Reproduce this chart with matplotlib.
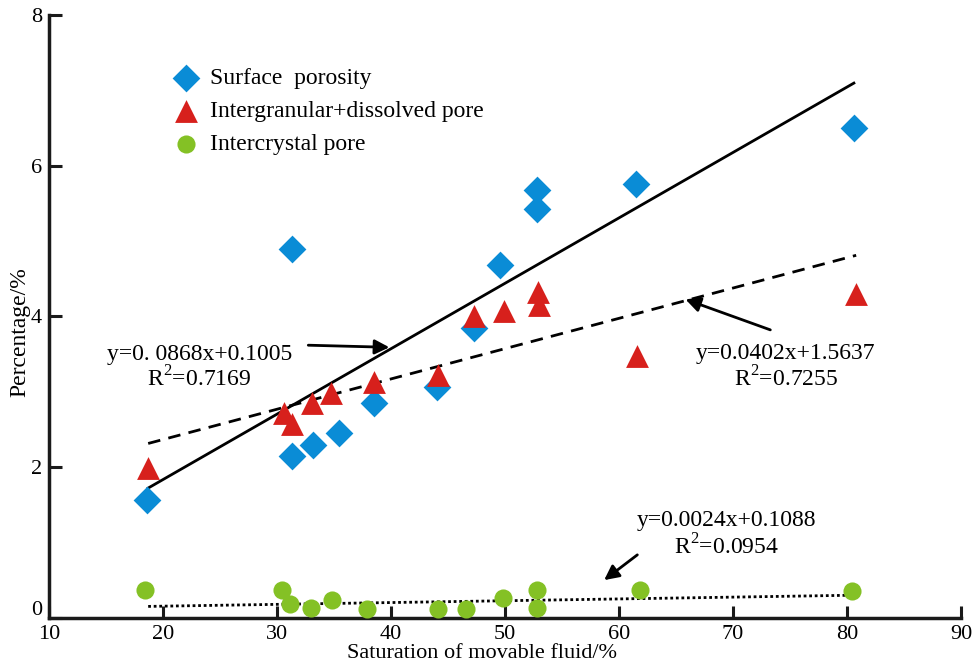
import matplotlib.pyplot as plt
import matplotlib.transforms as mtransforms
import numpy as np

# Saturation of movable fluid (%) vs percentage (%)
x_surface = [18.6, 31.3, 31.3, 33.2, 35.4, 38.5, 44.0, 47.3, 49.6, 52.8, 52.8, 61.5, 80.6]
y_surface = [1.56, 2.15, 4.89, 2.29, 2.46, 2.85, 3.06, 3.85, 4.68, 5.68, 5.43, 5.76, 6.50]

x_inter = [18.7, 30.6, 31.3, 33.1, 34.7, 38.5, 44.1, 47.3, 49.9, 52.9, 53.0, 61.6, 80.8]
y_inter = [1.99, 2.72, 2.57, 2.85, 2.98, 3.13, 3.22, 4.01, 4.07, 4.32, 4.15, 3.48, 4.30]

x_crystal = [18.4, 30.4, 31.1, 33.0, 34.8, 37.9, 44.1, 46.6, 49.8, 52.8, 52.8, 61.8, 80.4]
y_crystal = [0.37, 0.37, 0.19, 0.13, 0.24, 0.12, 0.12, 0.12, 0.26, 0.37, 0.13, 0.37, 0.36]

# regression coefficients (slope, intercept) and fitted x range
fit_surface = (0.0868, 0.1005)
fit_inter = (0.0402, 1.5637)
fit_crystal = (0.0024, 0.1088)
fit_range_surface = (18.7, 80.6)
fit_range_inter = (18.7, 80.8)
fit_range_crystal = (18.7, 80.6)

x_ticks = [10, 20, 30, 40, 50, 60, 70, 80, 90]
y_ticks = [0, 2, 4, 6, 8]

BLUE = '#0a8cd6'
RED = '#d7201c'
GREEN = '#84c125'
FS = 17

plt.rcParams['font.family'] = ['Liberation Serif', 'DejaVu Serif']

fig = plt.figure(figsize=(9.74, 6.64), dpi=100)
ax = fig.add_axes([0.0503, 0.0693, 0.9364, 0.9081])

ax.scatter(x_surface, y_surface, marker='D', s=200, color=BLUE, lw=0, zorder=3,
           clip_on=False, label='Surface  porosity')
ax.scatter(x_inter, y_inter, marker='^', s=270, color=RED, lw=0, zorder=3,
           clip_on=False, label='Intergranular+dissolved pore')
ax.scatter(x_crystal, y_crystal, marker='o', s=170, color=GREEN, lw=0, zorder=3,
           clip_on=False, label='Intercrystal pore')

# trend lines
for (k, b), (x0, x1), ls in [(fit_surface, fit_range_surface, '-'),
                             (fit_inter, fit_range_inter, (0, (4.5, 3))),
                             (fit_crystal, fit_range_crystal, (0, (1, 1)))]:
    xs = np.array([x0, x1])
    ax.plot(xs, k * xs + b, color='black', lw=2, ls=ls, zorder=2)

# equations + arrows
ax.text(15.1, 3.50, 'y=0. 0868x+0.1005', fontsize=FS, va='center', ha='left')
ax.text(23.2, 3.17, r'R$^{\mathregular{2}}$=0.7169', fontsize=FS, va='center', ha='center')
ax.annotate('', xy=(40.1, 3.59), xytext=(32.5, 3.62),
            arrowprops=dict(arrowstyle='-|>', color='black', lw=2, mutation_scale=22))

ax.text(74.6, 3.51, 'y=0.0402x+1.5637', fontsize=FS, va='center', ha='center')
ax.text(74.6, 3.17, r'R$^{\mathregular{2}}$=0.7255', fontsize=FS, va='center', ha='center')
ax.annotate('', xy=(65.6, 4.24), xytext=(73.5, 3.81),
            arrowprops=dict(arrowstyle='-|>', color='black', lw=2, mutation_scale=22))

ax.text(69.4, 1.30, 'y=0.0024x+0.1088', fontsize=FS, va='center', ha='center')
ax.text(69.4, 0.95, r'R$^{\mathregular{2}}$=0.0954', fontsize=FS, va='center', ha='center')
ax.annotate('', xy=(58.5, 0.48), xytext=(61.8, 0.86),
            arrowprops=dict(arrowstyle='-|>', color='black', lw=2, mutation_scale=22))

leg = ax.legend(loc='upper left', bbox_to_anchor=(0.114, 0.929), frameon=False,
                fontsize=FS, handletextpad=0.03, labelspacing=0.5,
                scatterpoints=1, borderaxespad=0)

ax.set_xlim(10, 90)
ax.set_ylim(0, 8)
ax.set_xticks(x_ticks)
ax.set_yticks(y_ticks)
ax.spines[['top', 'right']].set_visible(False)
for s in ['left', 'bottom']:
    ax.spines[s].set_linewidth(2.5)
    ax.spines[s].set_color('#1a1a1a')
ax.tick_params(direction='in', length=9, width=2.2, labelsize=16, pad=5, color='#1a1a1a')
ax.tick_params(axis='x', pad=5)

# the "0" on the y axis sits a little above the x axis line
zero_lbl = ax.get_yticklabels()[0]
zero_lbl.set_transform(zero_lbl.get_transform() +
                       mtransforms.ScaledTranslation(0, 7 / 72, fig.dpi_scale_trans))

ax.set_xlabel('Saturation of movable fluid/%', fontsize=16)
ax.xaxis.label.set_va('center')
ax.xaxis.set_label_coords(0.475, -0.059)
ax.set_ylabel('Percentage/%', fontsize=FS)
ax.yaxis.label.set_va('center')
ax.yaxis.set_label_coords(-0.032, 0.474)

fig.savefig('out.png', dpi=100)
